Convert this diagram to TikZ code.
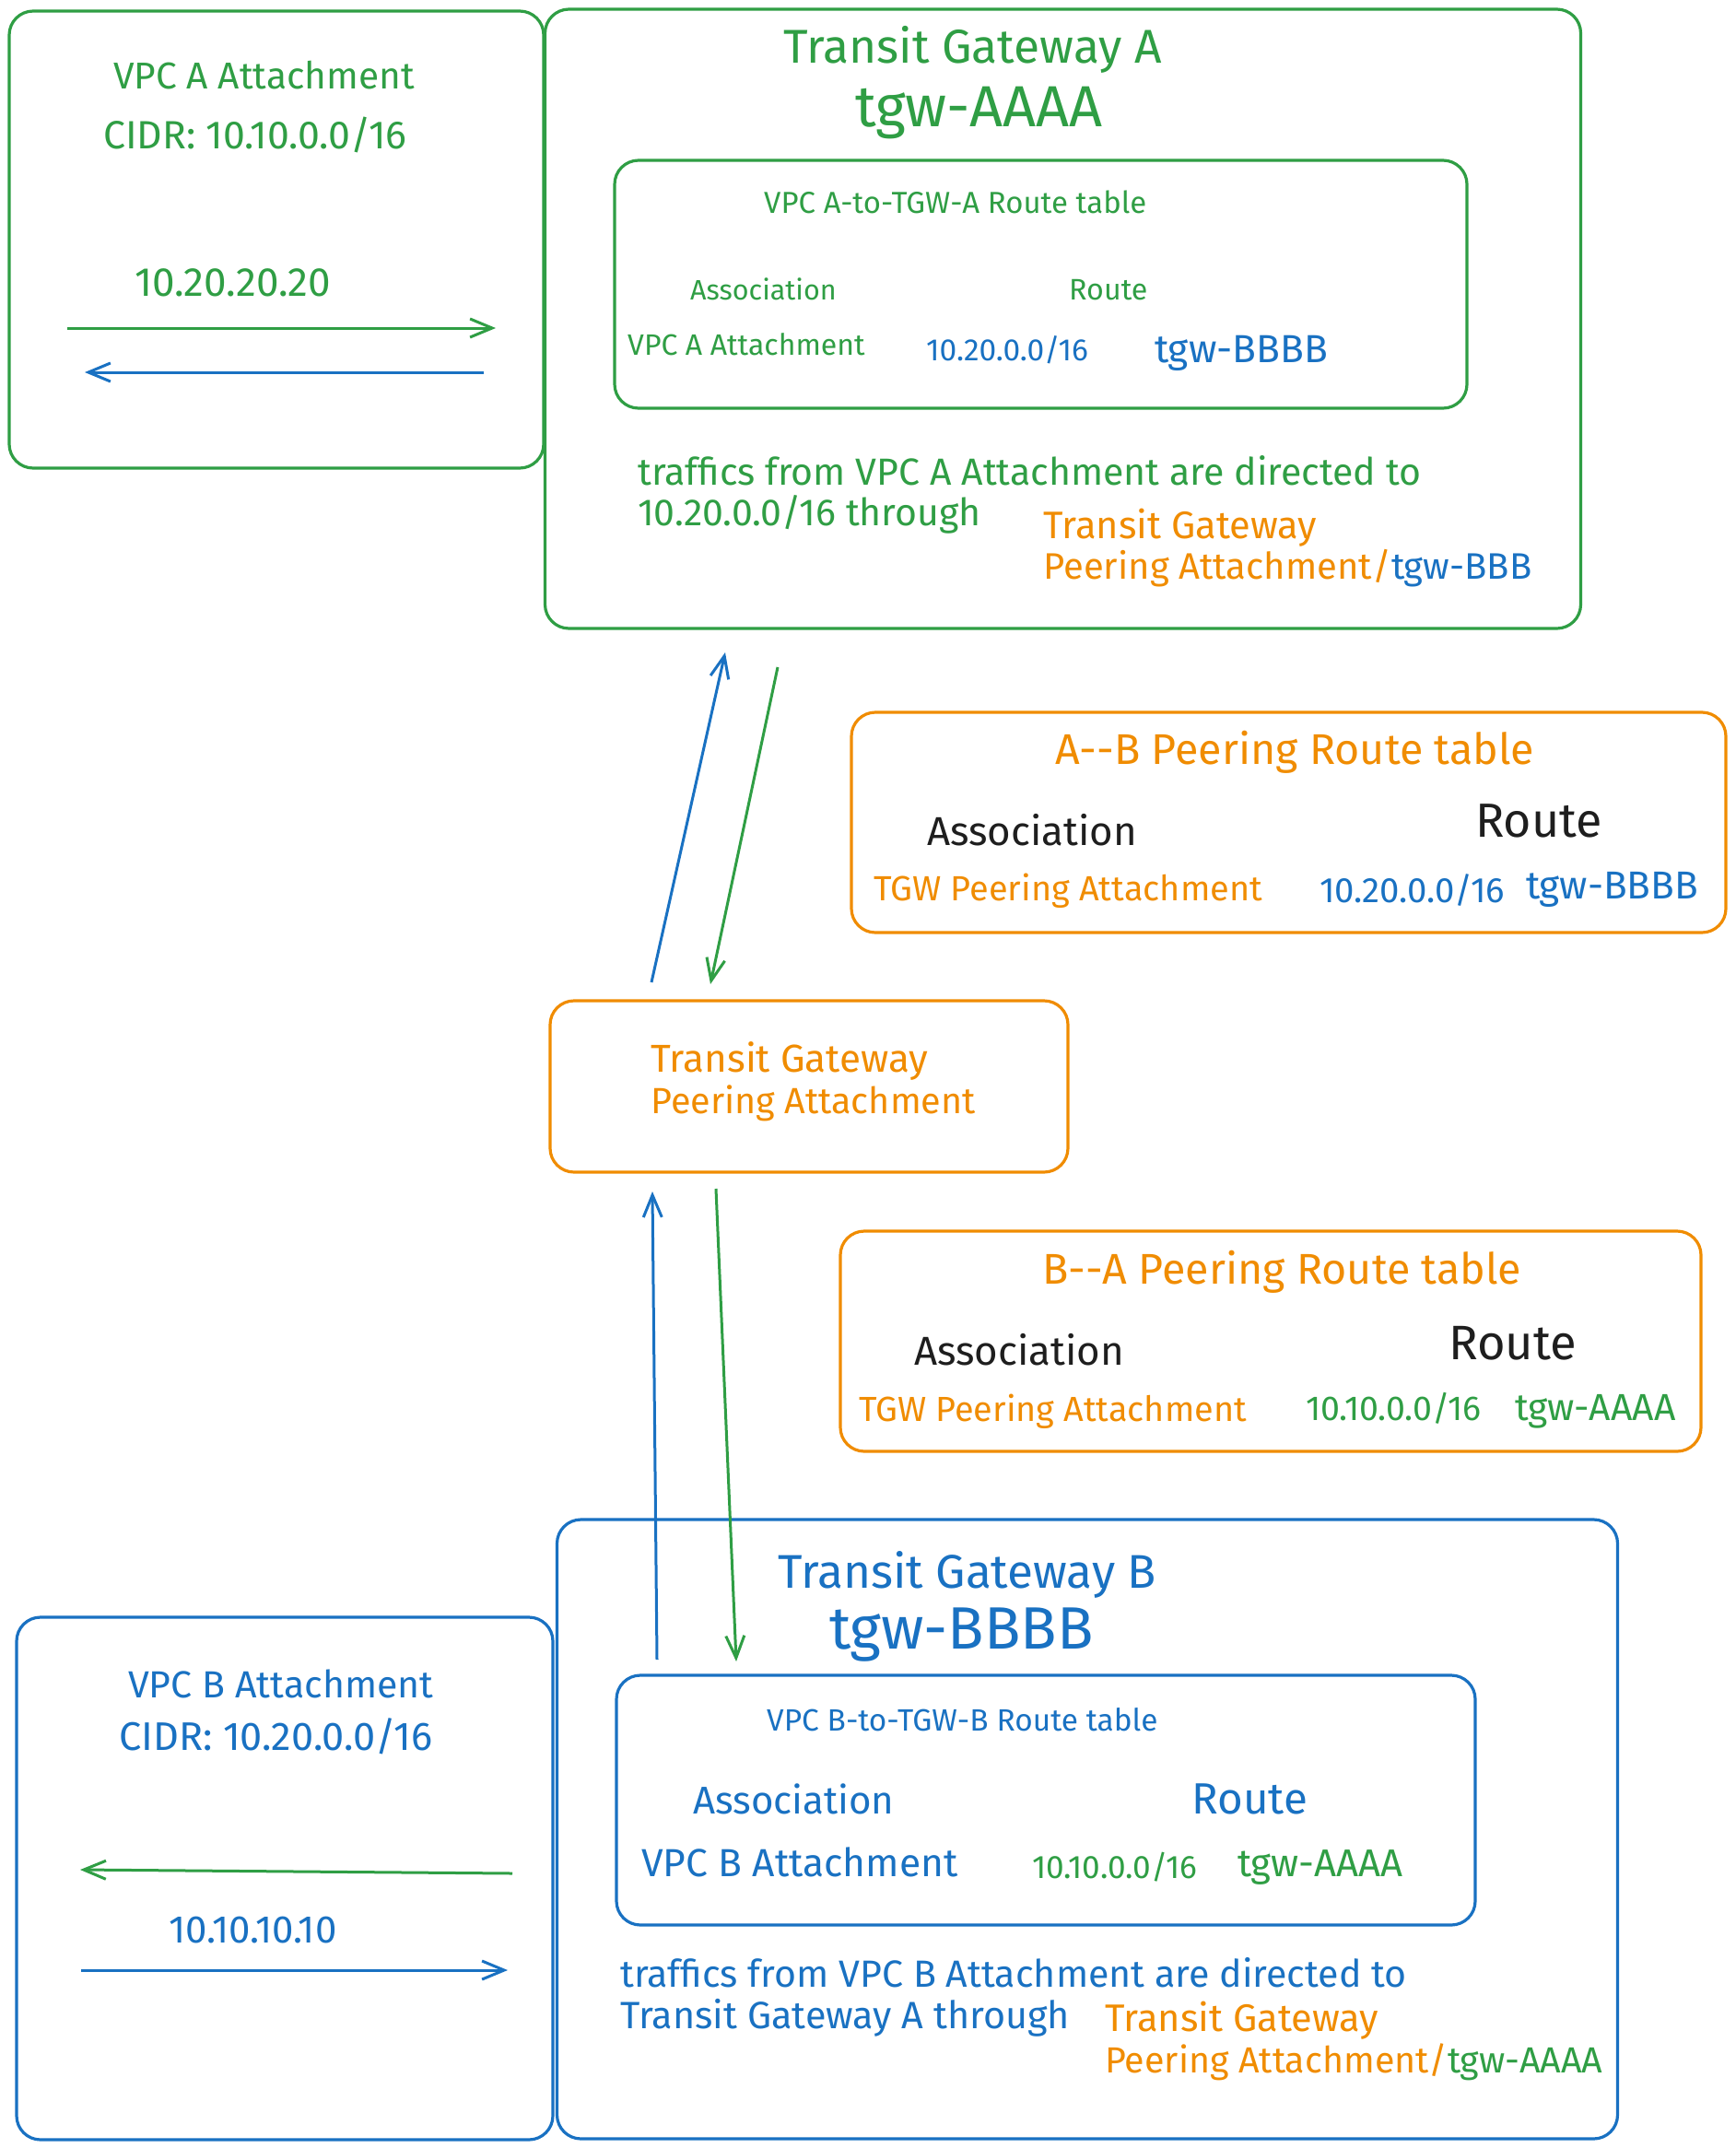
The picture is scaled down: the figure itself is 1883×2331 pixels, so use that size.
\documentclass[tikz,border=0pt]{standalone}
\usepackage{fontspec}
\setmainfont{Fira Sans}
\usetikzlibrary{arrows.meta}
\definecolor{tgwgreen}{HTML}{2F9E44}
\definecolor{tgwblue}{HTML}{1971C2}
\definecolor{tgworange}{HTML}{F08C00}
\definecolor{inkblack}{HTML}{1E1E1E}
\newcommand\sz[1]{\fontsize{#1pt}{#1pt}\selectfont}

\tikzset{
  panel/.style={draw=#1, line width=3.2pt, rounded corners=26pt, inner sep=0pt},
  lbl/.style={inner sep=0pt, anchor=base west, text=#1},
  flow/.style={draw=#1, line width=3pt, -{Straight Barb[length=24pt,width=20pt]}},
}

\begin{document}
\begin{tikzpicture}[x=1pt,y=-1pt]
\useasboundingbox (0,0) rectangle (1883,2331);
\fill[white] (0,0) rectangle (1883,2331);

% ---------- VPC A attachment ----------
\node[panel=tgwgreen, minimum width=580pt, minimum height=496pt] (vpcA) at (300,260) {};
\node[lbl=tgwgreen, font=\sz{40.6}] (vpcA-title) at (123,96) {VPC A Attachment};
\node[lbl=tgwgreen, font=\sz{42.8}] (vpcA-cidr) at (112,161) {CIDR: 10.10.0.0/16};
\node[lbl=tgwgreen, font=\sz{44}] (vpcA-ip) at (146,321) {10.20.20.20};
\coordinate (vpcA-out-s) at (73,356);
\coordinate (vpcA-out-e) at (538,356);
\coordinate (vpcA-in-s) at (525,404);
\coordinate (vpcA-in-e) at (92,404);
\draw[flow=tgwgreen] (vpcA-out-s) -- (vpcA-out-e);
\draw[flow=tgwblue] (vpcA-in-s) -- (vpcA-in-e);

% ---------- Transit Gateway A ----------
\node[panel=tgwgreen, minimum width=1124pt, minimum height=672pt] (tgwA) at (1153.5,346) {};
\node[lbl=tgwgreen, font=\sz{51.5}] (tgwA-title) at (850,69) {Transit Gateway A};
\node[lbl=tgwgreen, font=\sz{62.9}] (tgwA-id) at (928,137) {tgw-AAAA};
\node[panel=tgwgreen, minimum width=925pt, minimum height=269pt] (rtA) at (1129.5,308.5) {};
\node[lbl=tgwgreen, font=\sz{32.9}] (rtA-title) at (829,231) {VPC A-to-TGW-A Route table};
\node[lbl=tgwgreen, font=\sz{30.5}] (rtA-assoc) at (749,325) {Association};
\node[lbl=tgwgreen, font=\sz{32.2}] (rtA-route) at (1160,325) {Route};
\node[lbl=tgwgreen, font=\sz{32}] (rtA-att) at (681,385) {VPC A Attachment};
\node[lbl=tgwblue, font=\sz{33.5}] (rtA-net) at (1005,391) {10.20.0.0/16};
\node[lbl=tgwblue, font=\sz{42.5}] (rtA-tgw) at (1253,393) {tgw-BBBB};
\node[lbl=tgwgreen, font=\sz{41}] (tgwA-note1) at (692,526) {traffics from VPC A Attachment are directed to};
\node[lbl=tgwgreen, font=\sz{41}] (tgwA-note2) at (692,570) {10.20.0.0/16 through};
\node[lbl=tgworange, font=\sz{41.6}] (tgwA-via1) at (1132,584) {Transit Gateway};
\node[lbl=tgworange, font=\sz{40}] (tgwA-via2) at (1132,628) {Peering Attachment/\textcolor{tgwblue}{tgw-BBB}};

% ---------- A--B peering route table ----------
\node[panel=tgworange, minimum width=949pt, minimum height=239pt] (rtAB) at (1398.5,892.5) {};
\node[lbl=tgworange, font=\sz{46.6}] (rtAB-title) at (1145,829) {A-{}-B Peering Route table};
\node[lbl=inkblack, font=\sz{43.8}] (rtAB-assoc) at (1006,917) {Association};
\node[lbl=inkblack, font=\sz{52}] (rtAB-route) at (1601,908) {Route};
\node[lbl=tgworange, font=\sz{37.9}] (rtAB-att) at (948,977) {TGW Peering Attachment};
\node[lbl=tgwblue, font=\sz{38.3}] (rtAB-net) at (1432,979) {10.20.0.0/16};
\node[lbl=tgwblue, font=\sz{42.3}] (rtAB-tgw) at (1656,975) {tgw-BBBB};

% ---------- Peering attachment ----------
\node[panel=tgworange, minimum width=562pt, minimum height=186pt] (peer) at (878,1179) {};
\node[lbl=tgworange, font=\sz{42.2}] (peer-l1) at (706,1163) {Transit Gateway};
\node[lbl=tgworange, font=\sz{39.5}] (peer-l2) at (706,1208) {Peering Attachment};

% ---------- B--A peering route table ----------
\node[panel=tgworange, minimum width=934pt, minimum height=239pt] (rtBA) at (1379,1455.5) {};
\node[lbl=tgworange, font=\sz{46.6}] (rtBA-title) at (1131,1393) {B-{}-A Peering Route table};
\node[lbl=inkblack, font=\sz{43.8}] (rtBA-assoc) at (992,1481) {Association};
\node[lbl=inkblack, font=\sz{52.5}] (rtBA-route) at (1572,1475) {Route};
\node[lbl=tgworange, font=\sz{37.8}] (rtBA-att) at (932,1542) {TGW Peering Attachment};
\node[lbl=tgwgreen, font=\sz{37.5}] (rtBA-net) at (1417,1541) {10.10.0.0/16};
\node[lbl=tgwgreen, font=\sz{40.8}] (rtBA-tgw) at (1644,1541) {tgw-AAAA};

% ---------- Transit Gateway B ----------
\node[panel=tgwblue, minimum width=1151pt, minimum height=672pt] (tgwB) at (1180,1985) {};
\node[lbl=tgwblue, font=\sz{51.3}] (tgwB-title) at (844,1723) {Transit Gateway B};
\node[lbl=tgwblue, font=\sz{64.8}] (tgwB-id) at (900,1789) {tgw-BBBB};
\node[panel=tgwblue, minimum width=932pt, minimum height=271pt] (rtB) at (1135,1953.5) {};
\node[lbl=tgwblue, font=\sz{33.4}] (rtB-title) at (832,1878) {VPC B-to-TGW-B Route table};
\node[lbl=tgwblue, font=\sz{42}] (rtB-assoc) at (752,1968) {Association};
\node[lbl=tgwblue, font=\sz{47.5}] (rtB-route) at (1293,1968) {Route};
\node[lbl=tgwblue, font=\sz{42.5}] (rtB-att) at (696,2036) {VPC B Attachment};
\node[lbl=tgwgreen, font=\sz{35.2}] (rtB-net) at (1120,2038) {10.10.0.0/16};
\node[lbl=tgwgreen, font=\sz{41.9}] (rtB-tgw) at (1343,2036) {tgw-AAAA};
\node[lbl=tgwblue, font=\sz{41.1}] (tgwB-note1) at (673,2156) {traffics from VPC B Attachment are directed to};
\node[lbl=tgwblue, font=\sz{41.3}] (tgwB-note2) at (673,2201) {Transit Gateway A through};
\node[lbl=tgworange, font=\sz{41.6}] (tgwB-via1) at (1199,2204) {Transit Gateway};
\node[lbl=tgworange, font=\sz{39.4}] (tgwB-via2) at (1199,2249) {Peering Attachment/\textcolor{tgwgreen}{tgw-AAAA}};

% ---------- VPC B attachment ----------
\node[panel=tgwblue, minimum width=582pt, minimum height=567pt] (vpcB) at (309,2038.5) {};
\node[lbl=tgwblue, font=\sz{41}] (vpcB-title) at (139,1842) {VPC B Attachment};
\node[lbl=tgwblue, font=\sz{43.3}] (vpcB-cidr) at (129,1899) {CIDR: 10.20.0.0/16};
\node[lbl=tgwblue, font=\sz{41.9}] (vpcB-ip) at (183,2108) {10.10.10.10};
\coordinate (vpcB-in-s) at (556,2033);
\coordinate (vpcB-in-e) at (87,2029);
\coordinate (vpcB-out-s) at (88,2138);
\coordinate (vpcB-out-e) at (551,2138);
\draw[flow=tgwgreen] (vpcB-in-s) -- (vpcB-in-e);
\draw[flow=tgwblue] (vpcB-out-s) -- (vpcB-out-e);

% ---------- traffic between the gateways and the peering attachment ----------
\coordinate (peer-up-s) at (707,1066);
\coordinate (tgwA-in) at (787,708);
\coordinate (tgwA-out) at (844,724);
\coordinate (peer-down-e) at (771,1068);
\draw[flow=tgwblue] (peer-up-s) -- (tgwA-in);
\draw[flow=tgwgreen] (tgwA-out) -- (peer-down-e);

\coordinate (tgwB-out) at (713,1801);
\coordinate (peer-in) at (708,1293);
\coordinate (peer-out) at (777,1290);
\coordinate (tgwB-in) at (799,1803);
\draw[flow=tgwblue] (tgwB-out) -- (peer-in);
\draw[flow=tgwgreen] (peer-out) -- (tgwB-in);
\end{tikzpicture}
\end{document}
